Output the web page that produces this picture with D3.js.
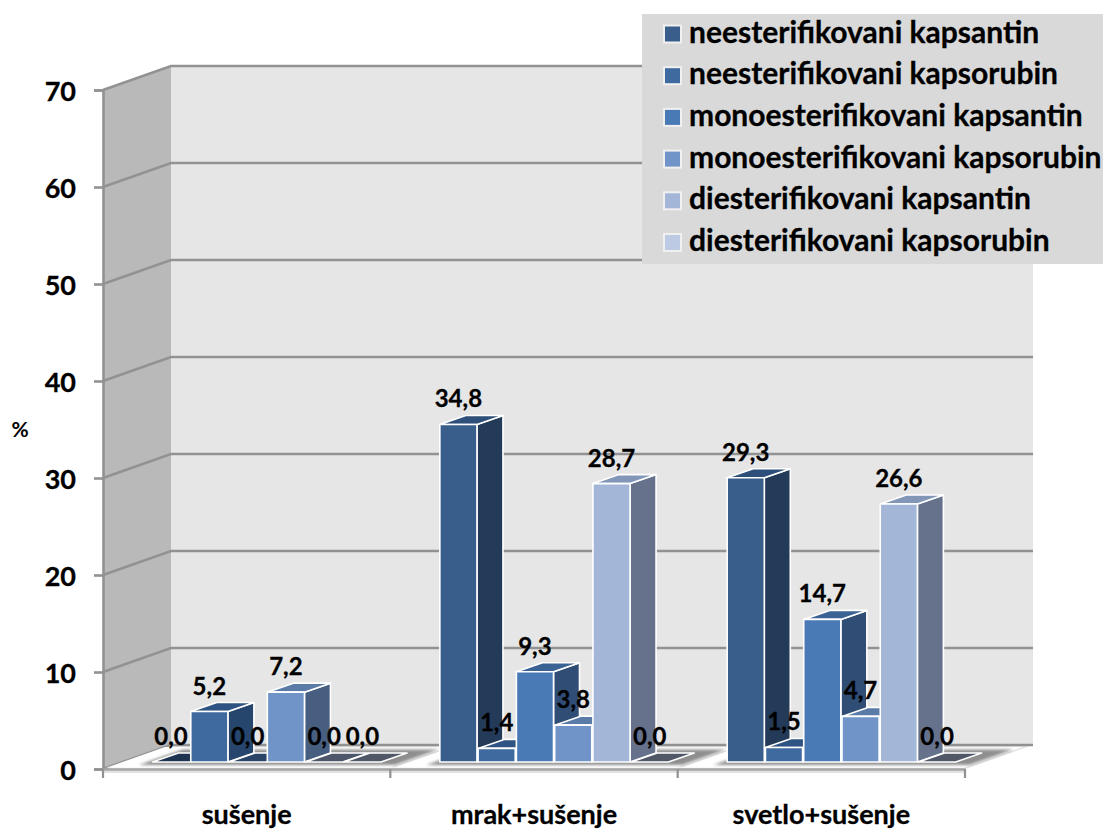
<!DOCTYPE html>
<html><head><meta charset="utf-8">
<script src="https://cdn.jsdelivr.net/npm/d3@7"></script>
<style>html,body{margin:0;padding:0;background:#fff}svg{display:block}text{font-family:Lato,"Open Sans",sans-serif;font-weight:700;fill:#000}</style>
</head><body><svg id="c" width="1103" height="830"></svg>
<script>
const categories = ["sušenje", "mrak+sušenje", "svetlo+sušenje"];
const seriesNames = ["neesterifikovani kapsantin","neesterifikovani kapsorubin","monoesterifikovani kapsantin","monoesterifikovani kapsorubin","diesterifikovani kapsantin","diesterifikovani kapsorubin"];
const sNeKapsantin = [0.0, 34.8, 29.3];
const sNeKapsorubin = [5.2, 1.4, 1.5];
const sMonoKapsantin = [0.0, 9.3, 14.7];
const sMonoKapsorubin = [7.2, 3.8, 4.7];
const sDiKapsantin = [0.0, 28.7, 26.6];
const sDiKapsorubin = [0.0, 0.0, 0.0];
const seriesValues = [sNeKapsantin, sNeKapsorubin, sMonoKapsantin, sMonoKapsorubin, sDiKapsantin, sDiKapsorubin];
const frontColors = ["#395E8B","#3F6A9F","#4A7AB5","#7094C7","#A3B6D8","#BCCAE3"];
const sideColors  = ["#243A59","#27466E","#2F4D75","#485E80","#66728C","#545C70"];
const topColors   = ["#2E4F7A","#2F5382","#3A6293","#5A7BA8","#8296B8","#98A8C4"];
const zeroColors  = ["#1E3350","#21385A","#2A4468","#485E80","#4E566A","#505868"];
const yTicks = [0,10,20,30,40,50,60,70];

const svg = d3.select("#c");
const defs = svg.append("defs");
const dx = 68, dy = -24;          // wall depth
const bdx = 26, bdy = -9;         // bar depth
const yAxis = d3.scaleLinear().domain([0,70]).range([769,90]);
const yBar = d3.scaleLinear().domain([0,70]).range([762,83]);
const xGroup = d3.scaleBand().domain(categories).range([103,965]);
const xSeries = d3.scaleBand().domain(d3.range(6)).range([49.5,278]).paddingInner(0.03);
const pts = a => a.map(p=>p.join(",")).join(" ");
const x0 = xGroup.range()[0], x1 = xGroup.range()[1];
const y0 = yAxis(0), yT = yAxis(70);
defs.append("filter").attr("id","soft").attr("x","-5%").attr("y","-30%").attr("width","110%").attr("height","160%")
  .append("feGaussianBlur").attr("stdDeviation",1.8);

// back and side walls
svg.append("polygon").attr("points",pts([[x0+dx,yT+dy],[x1+dx,yT+dy],[x1+dx,y0+dy],[x0+dx,y0+dy]])).attr("fill","#E6E6E6");
svg.append("polygon").attr("points",pts([[x0,yT],[x0+dx,yT+dy],[x0+dx,y0+dy],[x0,y0]])).attr("fill","#B9B9B9");
// floor
svg.append("polygon").attr("points",pts([[x0,y0],[x1,y0],[x1+dx,y0+dy],[x0+dx,y0+dy]])).attr("fill","#E4E4E4");
// gridlines
svg.append("g").selectAll("polyline").data(yTicks).join("polyline")
  .attr("points",d=>pts([[x0,yAxis(d)],[x0+dx,yAxis(d)+dy],[x1+dx,yAxis(d)+dy]]))
  .attr("fill","none").attr("stroke","#929292").attr("stroke-width",2.6);
svg.append("line").attr("x1",x0).attr("x2",x1).attr("y1",y0+2.6).attr("y2",y0+2.6).attr("stroke","#E2E2E2").attr("stroke-width",3);

// group floor plates
const plate = svg.append("g").selectAll("g").data(categories).join("g");
plate.append("polygon").attr("points",c=>{const l=xGroup(c);return pts([[l+4,767.5],[l+287,767.5],[l+345,747],[l+62,747]]);}).attr("fill","#fff");
plate.append("polygon").attr("points",c=>{const l=xGroup(c);return pts([[l+36,765],[l+292,765],[l+336,749.5],[l+80,749.5]]);}).attr("fill","#8E8E8E").attr("filter","url(#soft)");
svg.append("line").attr("x1",x0+4).attr("x2",x1).attr("y1",y0-1.6).attr("y2",y0-1.6).attr("stroke","#fff").attr("stroke-width",1).attr("opacity",.6);

// axes
const axisY = svg.append("g").attr("transform",`translate(${x0},0)`).call(d3.axisLeft(yAxis).tickValues(yTicks).tickSize(9).tickPadding(18).tickFormat(d3.format("d")));
axisY.select(".domain").attr("stroke","#929292").attr("stroke-width",2.6);
axisY.selectAll("line").attr("stroke","#929292").attr("stroke-width",2.6);
axisY.selectAll("text").attr("font-size",27).attr("y",2).style("font-family","Lato").style("font-weight",700).attr("fill","#000").attr("stroke","#000").attr("stroke-width",.3);
const axisX = svg.append("g").attr("transform",`translate(0,${y0})`).call(d3.axisBottom(xGroup).tickSize(0).tickPadding(36));
axisX.select(".domain").attr("stroke","#A6A6A6").attr("stroke-width",2.4);
axisX.selectAll("text").attr("font-size",27).style("font-family","Lato").style("font-weight",700).attr("fill","#000").attr("stroke","#000").attr("stroke-width",.3);
svg.append("g").selectAll("line").data(d3.range(4)).join("line")
  .attr("x1",i=>x0+i*xGroup.step()).attr("x2",i=>x0+i*xGroup.step()).attr("y1",y0).attr("y2",y0+9)
  .attr("stroke","#929292").attr("stroke-width",2.2);

svg.append("text").attr("x",20).attr("y",437).attr("text-anchor","middle").attr("font-size",21).text("%");

// bars, left to right so each occludes the side of the previous
const barData = categories.flatMap((c,g)=>seriesValues.map((vals,s)=>({c,s,v:vals[g]})));
const bx = d=>xGroup(d.c)+xSeries(d.s), bw = xSeries.bandwidth();
const bars = svg.append("g").selectAll("g").data(barData).join("g")
  .attr("stroke","#fff").attr("stroke-width",1.6).attr("stroke-linejoin","round");
bars.filter(d=>d.v>0).append("polygon")
  .attr("points",d=>{const x=bx(d)+bw,t=yBar(d.v),b=yBar(0);return pts([[x,t],[x+bdx,t+bdy],[x+bdx,b+bdy],[x,b]]);})
  .attr("fill",d=>sideColors[d.s]);
bars.append("polygon")
  .attr("points",d=>{const x=bx(d),t=yBar(d.v);return pts([[x,t],[x+bw,t],[x+bw+bdx,t+bdy],[x+bdx,t+bdy]]);})
  .attr("fill",d=>d.v>0?topColors[d.s]:zeroColors[d.s]);
bars.filter(d=>d.v>0).append("rect")
  .attr("x",bx).attr("y",d=>yBar(d.v)).attr("width",bw).attr("height",d=>yBar(0)-yBar(d.v))
  .attr("fill",d=>frontColors[d.s]);

// data labels
svg.append("g").selectAll("text").data(barData).join("text")
  .attr("x",d=>bx(d)+bw/2).attr("y",d=>yBar(d.v)+bdy-8)
  .attr("text-anchor","middle").attr("font-size",24).attr("stroke","#000").attr("stroke-width",.3)
  .text(d=>d3.format(".1f")(d.v).replace(".",","));

// legend
const rowY = d3.scalePoint().domain(seriesNames).range([33.5,242]);
svg.append("rect").attr("x",642).attr("y",14).attr("width",461).attr("height",250).attr("fill","#D9D9D9");
const lg = svg.append("g").selectAll("g").data(seriesNames).join("g").attr("transform",d=>`translate(0,${rowY(d)})`);
lg.append("rect").attr("x",664).attr("y",-8).attr("width",17).attr("height",17).attr("fill",(d,i)=>frontColors[i]).attr("stroke","#F0F0F0").attr("stroke-width",2);
lg.append("text").attr("x",689).attr("y",9).attr("font-size",30).attr("stroke","#000").attr("stroke-width",.3).text(d=>d);
</script></body></html>
